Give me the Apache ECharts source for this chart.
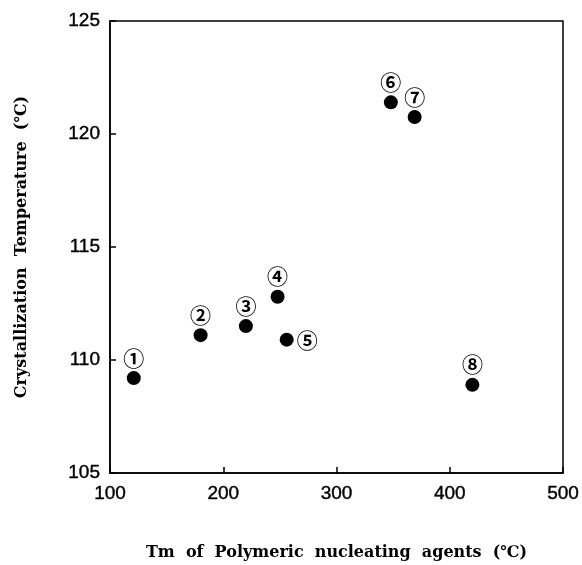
<!DOCTYPE html>
<html><head><meta charset="utf-8">
<script src="https://cdn.jsdelivr.net/npm/echarts@6/dist/echarts.min.js"></script>
<style>html,body{margin:0;padding:0;background:#fff}#c{width:582px;height:565px}</style>
</head><body><div id="c"></div>
<script>
const labels = ['①','②','③','④','⑤','⑥','⑦','⑧'];
const tmValues = [121, 180, 220, 248, 256, 348, 369, 420];
const tcValues = [109.2, 111.1, 111.5, 112.8, 110.9, 121.4, 120.75, 108.9];
const labelPos = ['top','top','top','top','right','top','top','top'];
const xTitle = 'Tm  of  Polymeric  nucleating  agents  (℃)';
const yTitle = 'Crystallization  Temperature  (℃)';

const data = tmValues.map((x, i) => ({
  value: [x, tcValues[i]],
  label: { position: labelPos[i] }
}));

const chart = echarts.init(document.getElementById('c'));
chart.setOption({
  backgroundColor: '#fff',
  animation: false,
  grid: { left: 110, top: 21, right: 19, bottom: 92, outerBoundsMode: 'none', containLabel: false,
          show: true, borderColor: '#000', borderWidth: 1.5 },
  xAxis: {
    type: 'value', min: 100, max: 500, interval: 100,
    name: xTitle, nameLocation: 'middle', nameGap: 72,
    nameTextStyle: { fontFamily: 'DejaVu Serif', fontWeight: 'bold', fontSize: 16, color: '#000' },
    axisLine: { lineStyle: { color: '#000', width: 1.5 } },
    axisTick: { inside: true, length: 6, lineStyle: { color: '#000', width: 1.5 } },
    axisLabel: { fontFamily: 'Liberation Sans', fontSize: 19, color: '#000', margin: 11,
                 textBorderColor: '#000', textBorderWidth: 0.4 },
    splitLine: { show: false }
  },
  yAxis: {
    type: 'value', min: 105, max: 125, interval: 5,
    name: yTitle, nameLocation: 'middle', nameGap: 80,
    nameTextStyle: { fontFamily: 'DejaVu Serif', fontWeight: 'bold', fontSize: 16, color: '#000' },
    axisLine: { lineStyle: { color: '#000', width: 1.5 } },
    axisTick: { inside: true, length: 6, lineStyle: { color: '#000', width: 1.5 } },
    axisLabel: { fontFamily: 'Liberation Sans', fontSize: 19, color: '#000', margin: 10,
                 textBorderColor: '#000', textBorderWidth: 0.4 },
    splitLine: { show: false }
  },
  series: [{
    type: 'scatter',
    symbolSize: 14,
    itemStyle: { color: '#000', opacity: 1 },
    label: {
      show: true,
      formatter: p => labels[p.dataIndex],
      fontFamily: 'Noto Sans CJK JP', fontWeight: 'bold', fontSize: 21, color: '#000', distance: 3
    },
    data: data
  }]
});
</script></body></html>
